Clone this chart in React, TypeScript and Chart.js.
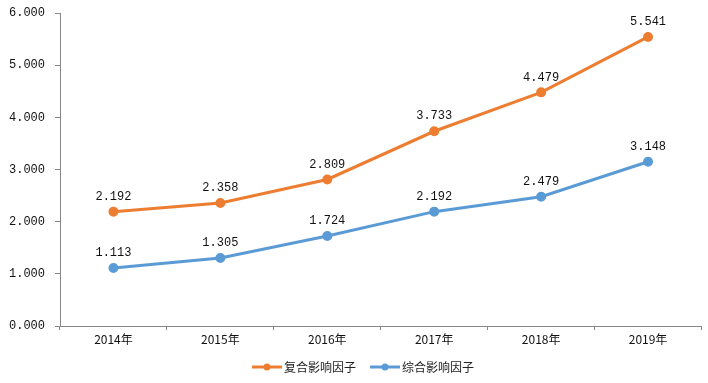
import React, { useEffect, useRef } from "react";
import { Chart, registerables } from "chart.js";
Chart.register(...registerables);

const categories = ["2014年", "2015年", "2016年", "2017年", "2018年", "2019年"];
const compositeFactor = [2.192, 2.358, 2.809, 3.733, 4.479, 5.541];
const comprehensiveFactor = [1.113, 1.305, 1.724, 2.192, 2.479, 3.148];
const seriesNames = ["复合影响因子", "综合影响因子"];
const colors = ["#ED7D31", "#5B9BD5"];

const NUM_FONT = "'Liberation Mono', 'DejaVu Sans Mono', monospace";
const CJK_FONT = "'Noto Sans CJK SC', 'DejaVu Sans', sans-serif";

const labelPlugin = {
  id: "pointLabels",
  afterDatasetsDraw(chart: any) {
    const ctx = chart.ctx;
    ctx.save();
    ctx.font = "12px " + NUM_FONT;
    ctx.fillStyle = "#111";
    ctx.textAlign = "center";
    ctx.textBaseline = "bottom";
    chart.data.datasets.forEach((ds: any, i: number) => {
      const meta = chart.getDatasetMeta(i);
      meta.data.forEach((pt: any, j: number) => {
        ctx.fillText(ds.data[j].toFixed(3), pt.x, pt.y - 9);
      });
    });
    ctx.restore();
  },
};

const legendPlugin = {
  id: "customLegend",
  afterDraw(chart: any) {
    const ctx = chart.ctx;
    ctx.save();
    ctx.font = "12px " + CJK_FONT;
    ctx.textBaseline = "middle";
    const y = 367;
    const starts = [252, 370];
    seriesNames.forEach((name, i) => {
      const x = starts[i];
      ctx.strokeStyle = colors[i];
      ctx.lineWidth = 3;
      ctx.beginPath();
      ctx.moveTo(x, y);
      ctx.lineTo(x + 30, y);
      ctx.stroke();
      ctx.fillStyle = colors[i];
      ctx.beginPath();
      ctx.arc(x + 15, y, 3.5, 0, Math.PI * 2);
      ctx.fill();
      ctx.fillStyle = "#222";
      ctx.textAlign = "left";
      ctx.fillText(name, x + 32, y);
    });
    ctx.restore();
  },
};

export default function App() {
  const ref = useRef<HTMLCanvasElement>(null);
  useEffect(() => {
    document.body.style.margin = "0";
    const chart = new Chart(ref.current!, {
      type: "line",
      data: {
        labels: categories,
        datasets: [compositeFactor, comprehensiveFactor].map((d, i) => ({
          label: seriesNames[i],
          data: d,
          borderColor: colors[i],
          backgroundColor: colors[i],
          borderWidth: 3,
          pointRadius: 3.5,
          pointHoverRadius: 3.5,
          tension: 0,
          clip: false,
        })),
      },
      options: {
        animation: false,
        responsive: false,
        events: [],
        layout: { padding: { left: 0, right: 6, top: 13, bottom: 32 } },
        plugins: { legend: { display: false }, tooltip: { enabled: false } },
        scales: {
          x: {
            offset: true,
            grid: { display: true, drawOnChartArea: false, offset: true, tickLength: 4, color: "#888" },
            border: { color: "#888", width: 1 },
            ticks: { font: { size: 12, family: CJK_FONT }, color: "#111", padding: 2 },
            afterFit: (s: any) => { s.height = 25; },
          },
          y: {
            min: 0,
            max: 6,
            ticks: {
              stepSize: 1,
              font: { size: 12, family: NUM_FONT },
              color: "#111",
              padding: 10,
              callback: (v: any) => Number(v).toFixed(3),
            },
            grid: { display: true, drawOnChartArea: false, tickLength: 5, color: "#888" },
            border: { color: "#888", width: 1 },
            afterFit: (s: any) => { s.width = 60; s.paddingTop = 0; },
          },
        },
      },
      plugins: [labelPlugin, legendPlugin],
    });
    return () => chart.destroy();
  }, []);
  return (
    <div style={{ width: 708, height: 383 }}>
      <canvas ref={ref} width={708} height={383} style={{ display: "block" }} />
    </div>
  );
}
